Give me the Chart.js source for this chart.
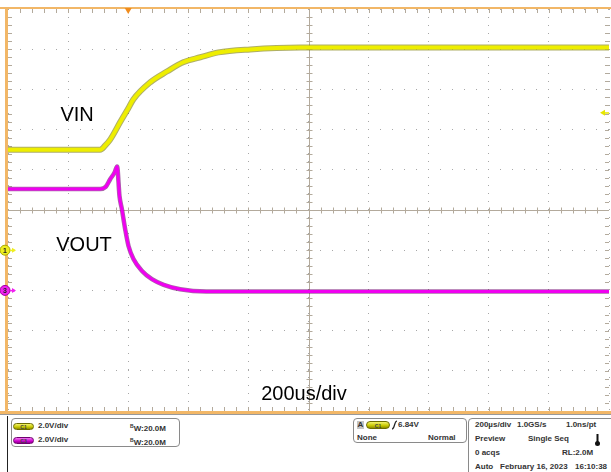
<!DOCTYPE html>
<html>
<head>
<meta charset="utf-8">
<script src="https://cdn.jsdelivr.net/npm/chart.js@4.4.1/dist/chart.umd.min.js"></script>
<style>
    body { margin: 0; width: 611px; height: 472px; overflow: hidden; position: relative; background: #fff;
           font-family: "Liberation Sans", Arial, sans-serif; }
    #scope { position: absolute; left: 0; top: 0; }
    .t { position: absolute; font-size: 8px; font-weight: bold; color: #333; line-height: 10px; white-space: nowrap; }
    .box { position: absolute; border: 1px solid #8a8a8a; border-radius: 4px; box-sizing: border-box; }
    .pill { position: absolute; width: 21px; height: 7px; border-radius: 4px; font-size: 5px; font-weight: bold;
            text-align: center; line-height: 7px; box-sizing: border-box; }
    .pc1 { background: linear-gradient(#f4f46a, #c8c800 60%, #8c8c00); border: 1px solid #6c6c00; color: #444; }
    .pc3 { background: linear-gradient(#f27af2, #d000d0 60%, #900090); border: 1px solid #700070; color: #444; }
</style>
</head>
<body>
<canvas id="scope" width="611" height="416"></canvas>

<!-- bottom info panel -->
<div style="position:absolute;left:7px;top:416px;width:1px;height:56px;background:#222"></div>

<div class="box" style="left:11px;top:418px;width:169px;height:29px"></div>
<span class="pill pc1" style="left:13px;top:423px">C1</span>
<span class="t" style="left:38px;top:421px">2.0V/div</span>
<span class="t" style="left:130px;top:421px"><span style="font-size:5px;vertical-align:3px">B</span>W:20.0M</span>
<span class="pill pc3" style="left:13px;top:437px">C3</span>
<span class="t" style="left:38px;top:435px">2.0V/div</span>
<span class="t" style="left:130px;top:435px"><span style="font-size:5px;vertical-align:3px">B</span>W:20.0M</span>

<div class="box" style="left:353px;top:418px;width:114px;height:25px"></div>
<span class="t" style="left:357px;top:421px;width:7px;height:8px;line-height:8px;background:#c4c4c4;text-align:center">A</span>
<span class="pill pc1" style="left:366px;top:421px;width:24px;height:8px;line-height:8px">C1</span>
<svg style="position:absolute;left:391px;top:420px" width="7" height="10"><path d="M1 9 Q2.5 9 3.5 5 Q4.5 1 6 1" stroke="#222" stroke-width="1.2" fill="none"/></svg>
<span class="t" style="left:398px;top:420px">6.84V</span>
<span class="t" style="left:357px;top:433px">None</span>
<span class="t" style="left:428px;top:433px">Normal</span>

<div class="box" style="left:468px;top:418px;width:150px;height:60px"></div>
<span class="t" style="left:475px;top:420px">200µs/div</span>
<span class="t" style="left:517px;top:420px">1.0GS/s</span>
<span class="t" style="left:566px;top:420px">1.0ns/pt</span>
<span class="t" style="left:475px;top:434px">Preview</span>
<span class="t" style="left:528px;top:434px">Single Seq</span>
<svg style="position:absolute;left:594px;top:433px" width="7" height="14"><rect x="2.5" y="1" width="2" height="9" fill="#111"/><circle cx="3.5" cy="10.5" r="2.5" fill="#111"/></svg>
<span class="t" style="left:475px;top:448px">0 acqs</span>
<span class="t" style="left:562px;top:448px">RL:2.0M</span>
<span class="t" style="left:475px;top:462px">Auto</span>
<span class="t" style="left:500px;top:462px">February 16, 2023</span>
<span class="t" style="left:575px;top:462px">16:10:38</span>

<script>
// time in µs relative to trigger, 200 µs/div
const vinTime  = [-400, -93, -77, -60, -27, 0, 17, 73, 130, 183, 240, 300, 406, 572, 1600];
const vinVolts = [5.0, 5.0, 5.2, 5.5, 6.36, 7.05, 7.5, 8.35, 8.9, 9.35, 9.6, 9.84, 9.99, 10.08, 10.08];

const voutTime  = [-400, -93, -75, -60, -45, -37, -29, -21, -10, 1, 18, 46, 79, 118, 173, 260, 1600];
const voutVolts = [5.05, 5.05, 5.15, 5.53, 5.88, 6.17, 4.7, 4.04, 3.04, 2.21, 1.55, 0.97, 0.56, 0.28, 0.06, -0.05, -0.05];

// text on the screen (time, C1 volts)
const noteText  = ['VIN', 'VOUT', '200us/div'];
const noteTime  = [-170, -147, 585];
const noteVolts = [6.68, 0.21, -7.2];

const triggerLevel = 6.84;

function pts(xs, ys) {
    return xs.map((x, i) => ({ x: x, y: ys[i] }));
}

const scopeDecor = {
    id: 'scopeDecor',
    beforeDatasetsDraw(chart) {
        const { ctx, chartArea: a } = chart;
        const cx = Math.round((a.left + a.right) / 2) + 0.5;
        const cy = Math.round((a.top + a.bottom) / 2) + 0.5;
        const dx = (a.right - a.left) / 50;
        const dy = (a.bottom - a.top) / 50;
        ctx.save();
        ctx.strokeStyle = '#b3aa9c';
        ctx.lineWidth = 1;
        ctx.beginPath();
        ctx.moveTo(a.left, cy); ctx.lineTo(a.right, cy);
        ctx.moveTo(cx, a.top); ctx.lineTo(cx, a.bottom);
        for (let i = 1; i < 50; i++) {
            const px = Math.round(a.left + i * dx) + 0.5;
            ctx.moveTo(px, cy - 3); ctx.lineTo(px, cy + 3);
            ctx.moveTo(px, a.top); ctx.lineTo(px, a.top + 4);
            ctx.moveTo(px, a.bottom - 4); ctx.lineTo(px, a.bottom);
            const py = Math.round(a.top + i * dy) + 0.5;
            ctx.moveTo(cx - 3, py); ctx.lineTo(cx + 3, py);
            ctx.moveTo(a.left, py); ctx.lineTo(a.left + 4, py);
            ctx.moveTo(a.right - 4, py); ctx.lineTo(a.right, py);
        }
        ctx.stroke();
        ctx.restore();
    },
    afterDatasetsDraw(chart) {
        const { ctx, chartArea: a, scales } = chart;
        const x = scales.x, y1 = scales.y, y3 = scales.y3;
        ctx.save();

        // orange frame
        ctx.fillStyle = '#f2b767';
        ctx.fillRect(0, a.top - 2, chart.width, 2);
        ctx.fillRect(5, a.top - 2, 3, a.bottom - a.top + 5);
        ctx.fillRect(0, a.bottom, chart.width, 3);
        ctx.fillStyle = '#9a9a9a';
        ctx.fillRect(0, a.bottom + 3, chart.width, 1);

        // trigger position
        const tx = x.getPixelForValue(0);
        ctx.fillStyle = '#f08c1e';
        ctx.beginPath();
        ctx.moveTo(tx - 3.5, a.top - 1); ctx.lineTo(tx + 3.5, a.top - 1); ctx.lineTo(tx, a.top + 5);
        ctx.fill();

        // trigger level
        const ty = y1.getPixelForValue(triggerLevel);
        ctx.fillStyle = '#e6e600';
        ctx.beginPath();
        ctx.moveTo(a.right - 9, ty); ctx.lineTo(a.right - 4, ty - 3); ctx.lineTo(a.right - 4, ty + 3);
        ctx.fill();
        ctx.fillRect(a.right - 5, ty - 0.5, 5, 1.5);

        // ground markers
        const marks = [
            { y: y1.getPixelForValue(0), fill: '#eeee20', edge: '#a8a800', label: '1' },
            { y: y3.getPixelForValue(0), fill: '#f020f0', edge: '#a000a0', label: '3' }
        ];
        marks.forEach(m => {
            ctx.fillStyle = m.fill;
            ctx.strokeStyle = m.edge;
            ctx.beginPath();
            ctx.arc(5, m.y, 5, 0, Math.PI * 2);
            ctx.fill();
            ctx.stroke();
            ctx.fillRect(10, m.y - 0.5, 5, 1.5);
            ctx.beginPath();
            ctx.moveTo(16, m.y); ctx.lineTo(12, m.y - 2.5); ctx.lineTo(12, m.y + 2.5);
            ctx.fill();
            ctx.fillStyle = '#222';
            ctx.font = 'bold 7px "Liberation Sans", Arial';
            ctx.textAlign = 'center';
            ctx.textBaseline = 'middle';
            ctx.fillText(m.label, 5, m.y + 0.5);
        });

        // notes
        ctx.fillStyle = '#000';
        ctx.font = '20px "Liberation Sans", Arial';
        ctx.textAlign = 'center';
        ctx.textBaseline = 'middle';
        noteText.forEach((s, i) => {
            ctx.fillText(s, x.getPixelForValue(noteTime[i]), y1.getPixelForValue(noteVolts[i]));
        });
        ctx.restore();
    }
};

// first dataset is drawn on top, so bright traces come first
new Chart(document.getElementById('scope'), {
    type: 'line',
    data: {
        datasets: [
            { data: pts(vinTime, vinVolts), yAxisID: 'y', borderColor: '#eeee00', borderWidth: 4 },
            { data: pts(voutTime, voutVolts), yAxisID: 'y3', borderColor: '#f000f0', borderWidth: 3 },
            { data: pts(vinTime, vinVolts), yAxisID: 'y', borderColor: 'rgba(120,120,0,0.6)', borderWidth: 6 },
            { data: pts(voutTime, voutVolts), yAxisID: 'y3', borderColor: 'rgba(110,0,110,0.6)', borderWidth: 4.5 }
        ]
    },
    options: {
        responsive: false,
        animation: false,
        devicePixelRatio: 1,
        layout: { padding: { left: 8, top: 9, right: 2, bottom: 5 } },
        elements: {
            point: { radius: 0 },
            line: { cubicInterpolationMode: 'monotone', borderCapStyle: 'butt' }
        },
        plugins: { legend: { display: false }, tooltip: { enabled: false } },
        scales: {
            x: {
                type: 'linear', min: -400, max: 1600,
                ticks: { display: false, stepSize: 200 },
                grid: { color: '#a8a8a8', drawTicks: false },
                border: { display: false, dash: [1, 7] }
            },
            y: {
                min: -8, max: 12,
                ticks: { display: false, stepSize: 2 },
                grid: { color: '#a8a8a8', drawTicks: false },
                border: { display: false, dash: [1, 11] }
            },
            y3: { min: -6, max: 14, display: false }
        }
    },
    plugins: [scopeDecor]
});
</script>
</body>
</html>
